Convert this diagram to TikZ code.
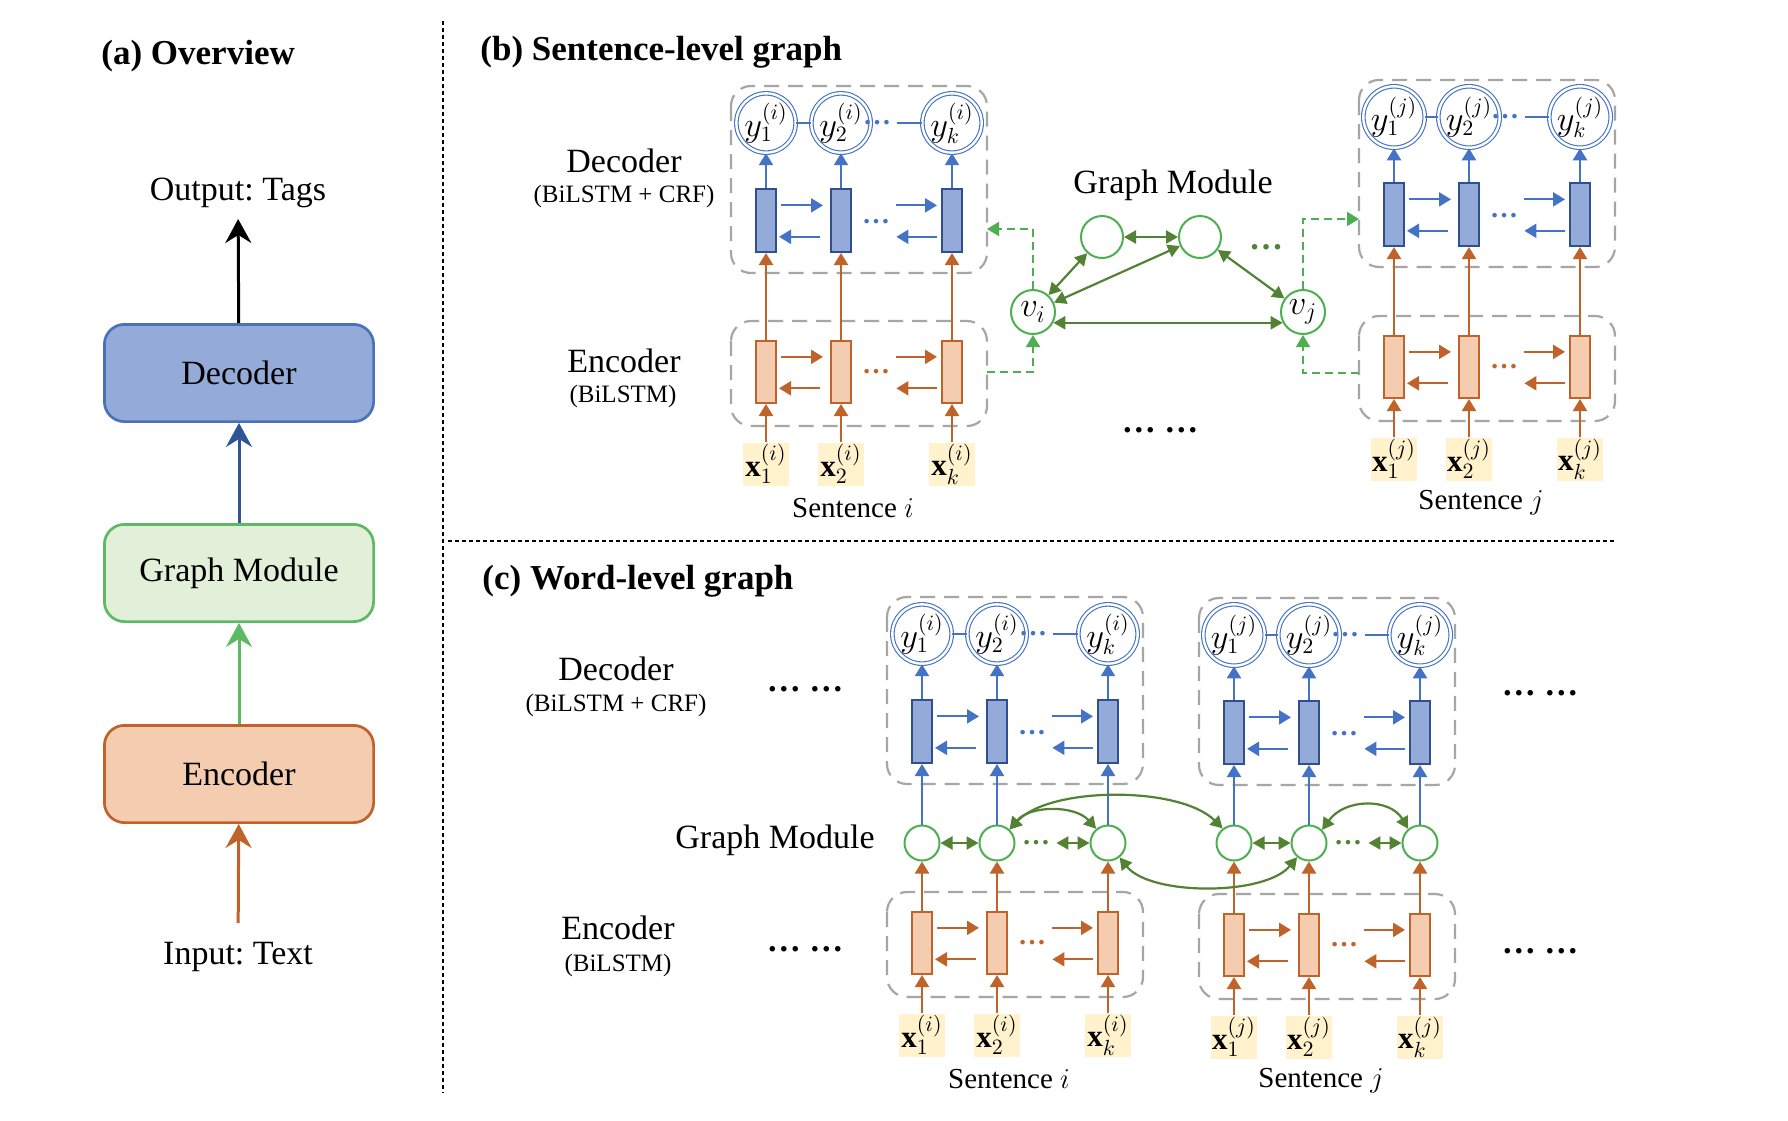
\documentclass[tikz,border=0pt]{standalone}
\usepackage{fontspec}
\setmainfont{Liberation Serif}
\usetikzlibrary{arrows.meta}

\definecolor{decfill}{HTML}{94AAD8}
\definecolor{decdraw}{HTML}{4A72B8}
\definecolor{bardark}{HTML}{2F4F8F}
\definecolor{arrblue}{HTML}{4472C4}
\definecolor{ovblue}{HTML}{2F5597}
\definecolor{encfill}{HTML}{F4CDB0}
\definecolor{encdraw}{HTML}{C0632B}
\definecolor{gmfill}{HTML}{E2F0D9}
\definecolor{gmdraw}{HTML}{5DB963}
\definecolor{gnodegreen}{HTML}{4CAF50}
\definecolor{edgegreen}{HTML}{548235}
\definecolor{xfill}{HTML}{FFF2CC}
\definecolor{boxgray}{HTML}{A6A6A6}

\tikzset{
  lab/.style={font=\fontsize{17}{20}\selectfont},
  sublab/.style={font=\fontsize{12.5}{15}\selectfont},
  sentlabel/.style={font=\fontsize{14.5}{17}\selectfont},
  paneltitle/.style={anchor=west, inner sep=0pt, font=\bfseries\fontsize{17.5}{20}\selectfont},
  ovbox/.style={line width=1.35pt, rounded corners=10pt, minimum width=134.6pt, minimum height=48.6pt, font=\fontsize{17}{20}\selectfont},
  ovarr/.style={line width=1.5pt, -{Stealth[length=12pt,width=13pt,inset=4pt]}},
  sepline/.style={line width=0.6pt, dash pattern=on 2pt off 1.5pt},
  dashbox/.style={draw=boxgray, line width=1.1pt, dash pattern=on 7.5pt off 4.5pt, rounded corners=10pt},
  ycirc/.style={circle, draw=arrblue, double=white, double distance=1.2pt, line width=0.55pt, minimum size=24pt, inner sep=0pt, font=\fontsize{16}{16}\selectfont},
  decbar/.style={draw=bardark, fill=decfill, line width=1pt, minimum width=10pt, minimum height=31.5pt, inner sep=0pt},
  encbar/.style={draw=encdraw, fill=encfill, line width=1pt, minimum width=10pt, minimum height=31pt, inner sep=0pt},
  xbox/.style={fill=xfill, minimum width=23pt, minimum height=21.5pt, inner sep=0pt, font=\fontsize{15.5}{16}\selectfont},
  yline/.style={draw=arrblue, line width=0.6pt},
  bluearr/.style={draw=arrblue, line width=1.1pt, -{Triangle[length=6pt,width=7pt]}},
  orarr/.style={draw=encdraw, line width=1.1pt, -{Triangle[length=6pt,width=7pt]}},
  dotsnode/.style={inner sep=3pt, font=\bfseries\fontsize{14}{14}\selectfont},
  bigdots/.style={font=\bfseries\fontsize{17}{17}\selectfont},
  gnode/.style={circle, draw=gnodegreen, line width=1pt, minimum size=21pt, inner sep=0pt},
  vnode/.style={circle, draw=gnodegreen, line width=1pt, minimum size=22pt, inner sep=0pt, font=\fontsize{18}{18}\selectfont},
  wnode/.style={circle, draw=gnodegreen, line width=1pt, minimum size=17.5pt, inner sep=0pt},
  gedge/.style={draw=edgegreen, line width=1.1pt, {Triangle[length=6pt,width=6.5pt]}-{Triangle[length=6pt,width=6.5pt]}},
  gdash/.style={draw=gnodegreen, line width=1pt, dash pattern=on 4pt off 2.5pt, -{Triangle[length=6pt,width=7pt]}}
}

% decoder stack: name, x of first column, y of output row, sentence
\newcommand{\decblock}[4]{%
  \draw[dashbox] (#2-35,#3-37) rectangle (#2+221,#3+150);
  \foreach \col/\dx in {1/0,2/75,k/186}{
    \node[ycirc] (#1y\col) at (#2+\dx,#3) {$y_{\col}^{(#4)}$};
    \node[decbar] (#1d\col) at (#2+\dx,#3+97.5) {};
    \draw[bluearr] (#1d\col) -- (#1y\col);
  }
  \node[dotsnode, text=arrblue] (#1ydots) at (#2+111,#3) {\ldots};
  \node[dotsnode, text=arrblue] (#1ddots) at (#2+110,#3+99) {\ldots};
  \draw[yline] (#1y1) -- (#1y2);
  \draw[yline] (#1ydots) -- (#1yk);
  \draw[bluearr, shorten <=2pt, shorten >=3.5pt] (#1d1.54) -- (#1d2.126);
  \draw[bluearr, shorten <=5pt, shorten >=1pt] (#1d2.-124) -- (#1d1.-56);
  \draw[bluearr, shorten >=2pt] (#1ddots.east |- #1dk.126) -- (#1dk.126);
  \draw[bluearr, shorten <=2pt] (#1dk.-124) -- (#1ddots.east |- #1dk.-124);
}

% encoder stack: name, x of first column, y of bars, sentence
\newcommand{\encblock}[4]{%
  \draw[dashbox] (#2-35,#3-51) rectangle (#2+221,#3+54);
  \foreach \col/\dx in {1/0,2/75,k/186}{
    \node[encbar] (#1e\col) at (#2+\dx,#3) {};
    \node[xbox] (#1x\col) at (#2+\dx,#3+92) {$\mathbf{x}_{\col}^{(#4)}$};
    \draw[orarr] (#1x\col) -- (#1e\col);
  }
  \node[dotsnode, text=encdraw] (#1edots) at (#2+110,#3) {\ldots};
  \draw[orarr, shorten <=2pt, shorten >=3.5pt] (#1e1.54) -- (#1e2.126);
  \draw[orarr, shorten <=5pt, shorten >=1pt] (#1e2.-124) -- (#1e1.-56);
  \draw[orarr, shorten >=2pt] (#1edots.east |- #1ek.126) -- (#1ek.126);
  \draw[orarr, shorten <=2pt] (#1ek.-124) -- (#1edots.east |- #1ek.-124);
  \node[sentlabel] (#1sent) at (#2+87,#3+136) {Sentence $#4$};
}

\begin{document}
\frenchspacing
\begin{tikzpicture}[x=0.5pt, y=-0.5pt, font=\fontsize{17}{20}\selectfont]
    \fill[white] (0,0) rectangle (1788,1120);
    \useasboundingbox (0,0) rectangle (1788,1120);

    % separators
    \draw[sepline] (443,21) -- (443,1093);
    \draw[sepline] (448,541) -- (1615,541);

    % (a) overview
    \node[paneltitle] (atitle) at (101,56) {(a) Overview};
    \node[lab] (ovout) at (238,193) {Output: Tags};
    \node[ovbox, draw=decdraw, fill=decfill] (ovdec) at (239,373) {Decoder};
    \node[ovbox, draw=gmdraw, fill=gmfill] (ovgm) at (239,573) {Graph Module};
    \node[ovbox, draw=encdraw, fill=encfill] (ovenc) at (239,774) {Encoder};
    \node[lab] (ovin) at (238,957) {Input: Text};

    \draw[ovarr, shorten >=2pt] (ovdec) -- (ovout);
    \draw[ovarr, ovblue] (ovgm) -- (ovdec);
    \draw[ovarr, gmdraw] (ovenc) -- (ovgm);
    \draw[ovarr, encdraw, shorten <=6pt] (ovin) -- (ovenc);

    % (b) sentence-level graph
    \node[paneltitle] (btitle) at (480,52) {(b) Sentence-level graph};
    \node[lab] (bdeclab) at (624,161) {Decoder};
    \node[sublab] (bdecsub) at (624,196) {(BiLSTM + CRF)};
    \node[lab] (benclab) at (624,361) {Encoder};
    \node[sublab] (bencsub) at (623,396) {(BiLSTM)};

    \decblock{bi}{766}{123}{i}
    \encblock{bi}{766}{372}{i}
    \decblock{bj}{1394}{117}{j}
    \encblock{bj}{1394}{367}{j}
    \foreach \col in {1,2,k}{
        \draw[orarr] (bie\col) -- (bid\col);
        \draw[orarr] (bje\col) -- (bjd\col);
    }

    \node[lab] (bgmlab) at (1173,185) {Graph Module};
    \node[gnode] (btl) at (1102,237) {};
    \node[gnode] (btr) at (1200,237) {};
    \node[vnode] (bvi) at (1033,312) {$v_i$};
    \node[vnode] (bvj) at (1303,312) {$v_j$};
    \node[bigdots, text=edgegreen] (bgdots) at (1266,247) {\ldots};
    \node[bigdots] (bmore) at (1160,430) {\ldots\ \ldots};

    \draw[gedge] (btl) -- (btr);
    \draw[gedge] (btl) -- (bvi);
    \draw[gedge] (btr) -- (bvi);
    \draw[gedge] (btr) -- (bvj);
    \draw[gedge] (bvi.-28) -- (bvj.208);

    \coordinate (bi-eout) at (987,372);
    \coordinate (bi-din) at (987,229);
    \coordinate (bj-eout) at (1359,373);
    \coordinate (bj-din) at (1359,219);
    \draw[gdash] (bi-eout) -| (bvi);
    \draw[gdash] (bvi) |- (bi-din);
    \draw[gdash] (bj-eout) -| (bvj);
    \draw[gdash] (bvj) |- (bj-din);

    % (c) word-level graph
    \node[paneltitle] (ctitle) at (482,581) {(c) Word-level graph};
    \node[lab] (cdeclab) at (616,669) {Decoder};
    \node[sublab] (cdecsub) at (616,705) {(BiLSTM + CRF)};
    \node[lab] (cgmlab) at (775,840) {Graph Module};
    \node[lab] (cenclab) at (618,928) {Encoder};
    \node[sublab] (cencsub) at (618,965) {(BiLSTM)};
    \node[bigdots] (cmore1) at (805,689) {\ldots\ \ldots};
    \node[bigdots] (cmore2) at (805,949) {\ldots\ \ldots};
    \node[bigdots] (cmore3) at (1540,693) {\ldots\ \ldots};
    \node[bigdots] (cmore4) at (1540,951) {\ldots\ \ldots};

    \decblock{ci}{922}{634}{i}
    \encblock{ci}{922}{943}{i}
    \decblock{cj}{1234}{635}{j}
    \encblock{cj}{1234}{945}{j}

    \foreach \col/\dx in {1/0,2/75,k/186}{
        \node[wnode] (cig\col) at (922+\dx,843) {};
        \node[wnode] (cjg\col) at (1234+\dx,843) {};
        \draw[orarr] (cie\col) -- (cig\col);
        \draw[bluearr] (cig\col) -- (cid\col);
        \draw[orarr] (cje\col) -- (cjg\col);
        \draw[bluearr] (cjg\col) -- (cjd\col);
    }
    \node[dotsnode, text=edgegreen] (cigdots) at (1036,843) {\ldots};
    \node[dotsnode, text=edgegreen] (cjgdots) at (1348,843) {\ldots};
    \draw[gedge] (cig1) -- (cig2);
    \draw[gedge] (cigdots) -- (cigk);
    \draw[gedge] (cjg1) -- (cjg2);
    \draw[gedge] (cjgdots) -- (cjgk);

    \draw[gedge] (cig2.47) .. controls (1030,805) and (1075,805) .. (cigk.130);
    \draw[gedge] (cig2.47) .. controls (1050,786) and (1180,786) .. (cjg1.128);
    \draw[gedge] (cigk.-51) .. controls (1150,896) and (1265,896) .. (cjg2.230);
    \draw[gedge] (cjg2.45) .. controls (1345,798) and (1390,798) .. (cjgk.130);
\end{tikzpicture}
\end{document}
